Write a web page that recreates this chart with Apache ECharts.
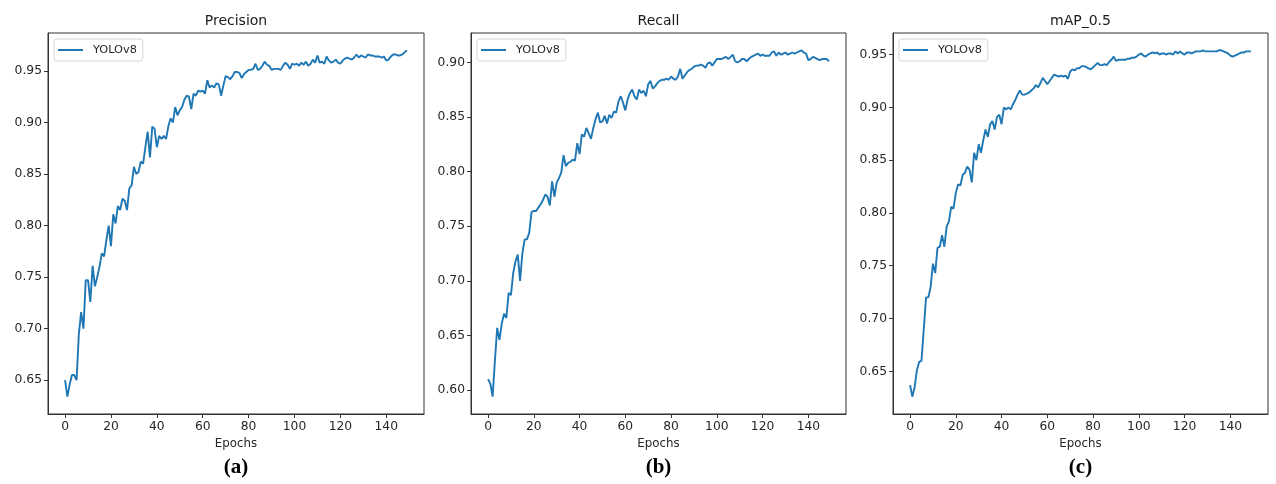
<!DOCTYPE html>
<html>
<head>
<meta charset="utf-8">
<script src="https://cdn.jsdelivr.net/npm/echarts@6/dist/echarts.min.js"></script>
<style>
html,body{margin:0;padding:0;background:#fff;}
#chart{width:1276px;height:484px;}
</style>
</head>
<body>
<div id="chart"></div>
<script>
// ---- data ----
const precision = [
0.650,0.634,0.646,0.655,0.655,0.650,0.695,0.716,0.700,0.747,
0.747,0.726,0.761,0.741,0.750,0.760,0.773,0.770,0.786,0.800,
0.780,0.811,0.802,0.819,0.815,0.826,0.824,0.815,0.836,0.839,
0.857,0.850,0.852,0.862,0.860,0.876,0.891,0.866,0.896,0.894,
0.876,0.887,0.884,0.887,0.884,0.896,0.904,0.900,0.915,0.907,
0.912,0.915,0.922,0.926,0.925,0.913,0.928,0.926,0.931,0.930,
0.931,0.928,0.941,0.934,0.936,0.934,0.938,0.937,0.926,0.936,
0.945,0.944,0.942,0.945,0.949,0.949,0.948,0.943,0.947,0.949,
0.951,0.951,0.952,0.957,0.951,0.952,0.955,0.959,0.956,0.955,
0.951,0.952,0.952,0.952,0.951,0.955,0.958,0.956,0.952,0.957,
0.956,0.957,0.955,0.958,0.956,0.959,0.955,0.957,0.961,0.958,
0.965,0.958,0.959,0.957,0.964,0.960,0.958,0.959,0.961,0.958,
0.957,0.960,0.962,0.963,0.962,0.961,0.963,0.966,0.963,0.965,
0.964,0.963,0.966,0.965,0.965,0.964,0.964,0.964,0.963,0.964,
0.960,0.961,0.964,0.966,0.966,0.965,0.965,0.966,0.968,0.970
];
const recall = [
0.610,0.606,0.594,0.627,0.657,0.646,0.661,0.670,0.666,0.689,
0.687,0.707,0.718,0.724,0.700,0.725,0.738,0.738,0.744,0.763,
0.764,0.764,0.767,0.770,0.774,0.779,0.777,0.769,0.791,0.777,
0.790,0.794,0.799,0.815,0.805,0.808,0.809,0.811,0.810,0.826,
0.816,0.834,0.832,0.840,0.835,0.830,0.840,0.848,0.854,0.845,
0.846,0.851,0.844,0.852,0.849,0.855,0.854,0.864,0.869,0.863,
0.856,0.866,0.872,0.875,0.869,0.866,0.875,0.872,0.874,0.869,
0.880,0.883,0.876,0.878,0.881,0.883,0.884,0.884,0.885,0.884,
0.887,0.885,0.884,0.887,0.894,0.885,0.888,0.891,0.893,0.894,
0.896,0.897,0.897,0.898,0.897,0.895,0.899,0.900,0.897,0.900,
0.903,0.903,0.903,0.904,0.905,0.903,0.905,0.907,0.901,0.900,
0.901,0.903,0.903,0.901,0.903,0.905,0.906,0.907,0.908,0.906,
0.907,0.906,0.906,0.906,0.909,0.910,0.906,0.909,0.907,0.908,
0.909,0.907,0.908,0.909,0.908,0.909,0.910,0.911,0.909,0.908,
0.902,0.903,0.905,0.904,0.903,0.902,0.903,0.903,0.903,0.901
];
const map05 = [
0.637,0.626,0.635,0.651,0.659,0.660,0.690,0.720,0.720,0.730,
0.752,0.743,0.767,0.768,0.779,0.768,0.787,0.792,0.806,0.804,
0.819,0.827,0.826,0.836,0.838,0.844,0.841,0.829,0.857,0.850,
0.865,0.857,0.869,0.879,0.872,0.884,0.887,0.879,0.891,0.893,
0.884,0.900,0.898,0.900,0.898,0.903,0.907,0.912,0.916,0.912,
0.912,0.913,0.914,0.916,0.918,0.921,0.919,0.923,0.928,0.925,
0.922,0.925,0.928,0.931,0.930,0.929,0.930,0.929,0.930,0.927,
0.934,0.936,0.935,0.937,0.937,0.939,0.939,0.938,0.937,0.936,
0.938,0.940,0.942,0.940,0.940,0.941,0.940,0.943,0.945,0.948,
0.944,0.945,0.945,0.945,0.945,0.946,0.946,0.947,0.947,0.948,
0.950,0.951,0.949,0.948,0.950,0.951,0.952,0.951,0.952,0.950,
0.951,0.951,0.950,0.951,0.951,0.950,0.953,0.951,0.953,0.951,
0.950,0.952,0.952,0.951,0.952,0.953,0.953,0.953,0.954,0.953,
0.953,0.953,0.953,0.953,0.953,0.954,0.954,0.953,0.952,0.951,
0.949,0.948,0.949,0.950,0.951,0.952,0.952,0.953,0.953,0.953
];
const panelTitles = ['Precision', 'Recall', 'mAP_0.5'];
const panelLetters = ['(a)', '(b)', '(c)'];
const seriesName = 'YOLOv8';
const xTicks = [0, 20, 40, 60, 80, 100, 120, 140];
const yTicks = [
  [0.65, 0.70, 0.75, 0.80, 0.85, 0.90, 0.95],
  [0.60, 0.65, 0.70, 0.75, 0.80, 0.85, 0.90],
  [0.65, 0.70, 0.75, 0.80, 0.85, 0.90, 0.95]
];
const allSeries = [precision, recall, map05];

// ---- layout ----
const W = 1276, H = 484;
const boxes = [
  {l: 48, r: 424},
  {l: 471, r: 846},
  {l: 893, r: 1268}
];
const TOP = 33, BOTTOM = 414;
const FONT = '"DejaVu Sans", "Liberation Sans", sans-serif';
const TXT = '#262626';
const AX = '#333333';
const BLUE = '#1f77b4';

const grids = [], xAxes = [], yAxes = [], series = [], legends = [], graphics = [];
allSeries.forEach((vals, k) => {
  const b = boxes[k];
  const n = vals.length;
  const xmin = 0 - 0.05 * (n - 1), xmax = (n - 1) + 0.05 * (n - 1);
  const vmin = Math.min(...vals), vmax = Math.max(...vals);
  const pad = 0.05 * (vmax - vmin);
  grids.push({left: b.l, right: W - b.r, top: TOP, bottom: H - BOTTOM,
    show: true, borderColor: AX, borderWidth: 1, backgroundColor: '#fff', containLabel: false});
  xAxes.push({
    type: 'value', gridIndex: k, min: xmin, max: xmax,
    name: 'Epochs', nameLocation: 'middle', nameGap: 23,
    nameTextStyle: {fontFamily: FONT, fontSize: 11.8, color: TXT},
    axisLine: {show: true, onZero: false, lineStyle: {color: AX, width: 1}},
    axisTick: {show: true, inside: false, length: 4, lineStyle: {color: AX, width: 1}, customValues: xTicks},
    axisLabel: {show: true, margin: 7, fontFamily: FONT, fontSize: 12.3, color: TXT, customValues: xTicks,
      formatter: v => String(Math.round(v))},
    splitLine: {show: false}
  });
  yAxes.push({
    type: 'value', gridIndex: k, min: vmin - pad, max: vmax + pad,
    axisLine: {show: true, onZero: false, lineStyle: {color: AX, width: 1}},
    axisTick: {show: true, inside: false, length: 4, lineStyle: {color: AX, width: 1}, customValues: yTicks[k]},
    axisLabel: {show: true, margin: 6, fontFamily: FONT, fontSize: 12.3, color: TXT, customValues: yTicks[k],
      formatter: v => v.toFixed(2)},
    splitLine: {show: false}
  });
  series.push({
    type: 'line', name: seriesName + '#' + k, xAxisIndex: k, yAxisIndex: k,
    data: vals.map((v, i) => [i, v]),
    symbol: 'none', showSymbol: false, smooth: false,
    lineStyle: {color: BLUE, width: 1.9}, itemStyle: {color: BLUE},
    animation: false
  });
  legends.push({
    data: [{name: seriesName + '#' + k, icon: 'rect'}],
    left: b.l + 6, top: 39,
    orient: 'vertical',
    backgroundColor: 'rgba(255,255,255,0.8)',
    borderColor: '#d6d6d6', borderWidth: 1, borderRadius: 3,
    padding: [4, 6, 4, 4],
    itemWidth: 25, itemHeight: 2, itemGap: 0,
    itemStyle: {color: BLUE},
    formatter: name => name.split('#')[0],
    textStyle: {fontFamily: FONT, fontSize: 11.3, color: TXT, padding: [0, 0, 0, 5], lineHeight: 14},
    selectedMode: false
  });
  const cx = (b.l + b.r) / 2;
  graphics.push({
    type: 'text', x: cx, y: 21, silent: true,
    style: {text: panelTitles[k], font: '14px ' + FONT, fill: '#1a1a1a',
      align: 'center', verticalAlign: 'middle', textAlign: 'center', textVerticalAlign: 'middle'}
  });
  graphics.push({
    type: 'text', x: cx, y: 468, silent: true,
    style: {text: panelLetters[k], font: 'bold 21px "Liberation Serif", "DejaVu Serif", serif', fill: '#000',
      align: 'center', verticalAlign: 'middle', textAlign: 'center', textVerticalAlign: 'middle'}
  });
});

const chart = echarts.init(document.getElementById('chart'), null, {renderer: 'canvas', width: W, height: H});
chart.setOption({
  backgroundColor: '#fff',
  animation: false,
  grid: grids, xAxis: xAxes, yAxis: yAxes, series: series,
  legend: legends, graphic: graphics
});
</script>
</body>
</html>
